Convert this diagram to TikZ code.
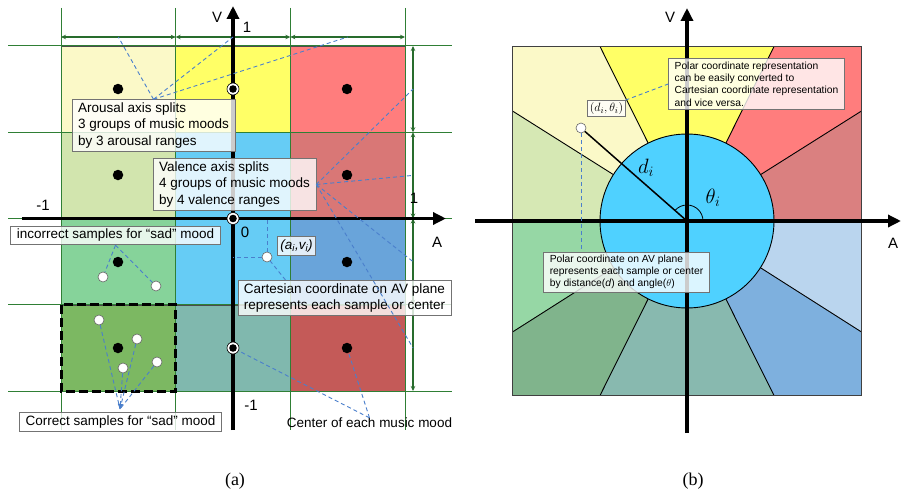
\documentclass[tikz,border=0pt]{standalone}
\usepackage{fontspec}
\setmainfont{Liberation Sans}
\newfontfamily\capfont{Liberation Serif}
\usetikzlibrary{arrows.meta,calc}

% cell colours (a)
\definecolor{lyellow}{HTML}{FBF9C8}
\definecolor{myellow}{HTML}{FFFF66}
\definecolor{mred}{HTML}{FF7D7D}
\definecolor{dred}{HTML}{D97776}
\definecolor{lgreen}{HTML}{D2E5AE}
\definecolor{mcyan}{HTML}{66CCF5}
\definecolor{mgreen}{HTML}{86D39A}
\definecolor{sblue}{HTML}{69A4DA}
\definecolor{ogreen}{HTML}{7CB862}
\definecolor{mteal}{HTML}{80B8AE}
\definecolor{crimson}{HTML}{C45A58}
% sector colours (b)
\definecolor{rdred}{HTML}{DA8080}
\definecolor{rlblue}{HTML}{BAD5EE}
\definecolor{rsblue}{HTML}{7EB0DE}
\definecolor{rteal}{HTML}{88B9AF}
\definecolor{rdgreen}{HTML}{80B48C}
\definecolor{rgreen}{HTML}{96D7A5}
\definecolor{rlgreen}{HTML}{D6E8B4}
\definecolor{rcyan}{HTML}{4FD1FF}
\definecolor{gridgreen}{HTML}{2F7F35}
\definecolor{calloutblue}{HTML}{4A7FCC}

\tikzset{
  cell/.style={draw=black!70, line width=0.5pt},
  gridline/.style={gridgreen, line width=1pt},
  dimarrow/.style={gridgreen!85!black, line width=1.2pt,
    {Stealth[length=5pt,width=4.5pt]}-{Stealth[length=5pt,width=4.5pt]}},
  avaxis/.style={line width=3.5pt, -{Triangle[length=13pt,width=12pt]}},
  callout/.style={calloutblue, line width=0.9pt, dash pattern=on 4pt off 3pt},
  notebox/.style={draw=black!55, fill=white, fill opacity=0.8, text opacity=1,
    line width=0.8pt, align=left, inner xsep=6pt, inner ysep=3pt,
    font=\fontsize{13.5}{16.5}\selectfont},
  smallbox/.style={notebox, inner xsep=6pt, font=\fontsize{10.3}{12.3}\selectfont},
  moodpt/.style={circle, fill=black, inner sep=0pt, minimum size=10.5pt},
  ringpt/.style={circle, fill=white, draw=black, line width=0.6pt, inner sep=0pt, minimum size=12pt},
  samplept/.style={circle, fill=white, draw=black!60, line width=0.6pt, inner sep=0pt, minimum size=10pt},
  lbl/.style={font=\fontsize{15}{17}\selectfont},
}

\begin{document}
\begin{tikzpicture}[x=1pt,y=-1pt]
  \fill[white] (0,0) rectangle (902,495);
  \useasboundingbox (0,0) rectangle (902,495);

  %% (a) cartesian plane
  \foreach \col/\row/\shade in {0/0/lyellow, 1/0/myellow, 2/0/mred,
                                0/1/lgreen, 1/1/mcyan, 2/1/dred,
                                0/2/mgreen, 1/2/mcyan, 2/2/sblue,
                                0/3/ogreen, 1/3/mteal, 2/3/crimson}
    \filldraw[cell, fill=\shade] ({61+114.67*\col},{46+86.25*\row}) rectangle +(114.67,86.25);

  \foreach \gx in {61,175.67,290.33,405}
    \draw[gridline] (\gx,8) -- (\gx,430);
  \foreach \gy in {46,132.25,218.5,304.75,391}
    \draw[gridline] (8,\gy) -- (452,\gy);

  % range arrows
  \foreach \i in {0,1,2}
    \draw[dimarrow] ({61+114.67*\i},37) -- ({61+114.67*(\i+1)},37) coordinate[midway] (h\i);
  \foreach \i in {0,1,2,3}
    \draw[dimarrow] (413,{46+86.25*\i}) -- (413,{46+86.25*(\i+1)}) coordinate[midway] (v\i);

  \draw[line width=3pt, dash pattern=on 9pt off 4pt] (61,304.75) rectangle (175.67,391);

  \coordinate (O) at (233,218.5);
  \draw[avaxis] (22,218.5) -- (446,218.5);
  \draw[avaxis] (233,430) -- (233,6);
  \node[lbl] at (217,17) {V};
  \node[lbl] at (247,27) {1};
  \node[lbl] at (43,205) {-1};
  \node[lbl] at (414,198) {1};
  \node[lbl] at (437,242) {A};
  \node[lbl] at (245,232) {0};
  \node[lbl] at (251,405) {-1};

  % mood centers
  \foreach \name/\px/\py in {l0/118/89, l1/118/175, l2/118/262, l3/118/348,
                             r0/347/89, r1/347/175, r2/347/262, r3/347/348}
    \node[moodpt] (\name) at (\px,\py) {};
  \foreach \name/\py in {m0/89, m1/218.5, m2/348} {
    \node[ringpt] (\name) at (233,\py) {};
    \fill (\name) circle (3.8);
  }

  % samples
  \node[samplept] (w1) at (103,277) {};
  \node[samplept] (w2) at (156,286) {};
  \node[samplept] (c1) at (99,320) {};
  \node[samplept] (c2) at (137,339) {};
  \node[samplept] (c3) at (123,368) {};
  \node[samplept] (c4) at (157,362) {};
  \node[samplept] (ai) at (267,257) {};

  % notes
  \node[notebox] (arousal) at (153.5,125.5) {Arousal axis splits\\3 groups of music moods\\by 3 arousal ranges};
  \node[notebox] (valence) at (234.5,184.5) {Valence axis splits\\4 groups of music moods\\by 4 valence ranges};
  \node[notebox] (incorrect) at (115.5,235.5) {incorrect samples for “sad” mood};
  \node[notebox, inner xsep=3pt] (ailbl) at (296.5,246) {\itshape(a\textsubscript{i},v\textsubscript{i})};
  \node[notebox] (cartesian) at (344.5,298) {Cartesian coordinate on AV plane\\represents each sample or center};
  \node[notebox] (correct) at (120.5,422) {Correct samples for “sad” mood};
  \node[font=\fontsize{13.5}{16.5}\selectfont, inner sep=0pt] (centerlbl) at (369.5,423) {Center of each music mood};
  \coordinate (sadtip) at (120,409);

  \foreach \t in {h0,h1,h2}
    \draw[callout] (arousal.north) -- (\t);
  \foreach \t in {v0,v1,v2,v3}
    \draw[callout] (valence.east) -- (\t);
  \draw[callout] (incorrect.south) -- (w1);
  \draw[callout] (incorrect.south) -- (w2);
  \foreach \t in {c1,c2,c4}
    \draw[callout] (\t) -- (sadtip);
  \draw[callout, -{Triangle[length=5pt,width=5pt]}] (c3) -- (sadtip);
  \draw[callout] (centerlbl.north) -- (m2);
  \draw[callout] (centerlbl.north) -- (r3);
  \draw[callout] (ai) -- (ai -| O);
  \draw[callout] (ai) -- (ai |- O);
  \draw[callout] ($(cartesian.north west)+(48,0)$) -- (ai);

  %% (b) polar plane
  \begin{scope}[shift={(687,221)}]
    \coordinate (P) at (0,0);
    \fill[myellow] (0,0) -- (-87,-174.5) -- (87,-174.5) -- cycle;
    \fill[lyellow] (0,0) -- (-174.5,-110) -- (-174.5,-174.5) -- (-87,-174.5) -- cycle;
    \fill[rlgreen] (0,0) -- (-174.5,0) -- (-174.5,-110) -- cycle;
    \fill[rgreen] (0,0) -- (-174.5,0) -- (-174.5,111) -- cycle;
    \fill[rdgreen] (0,0) -- (-174.5,111) -- (-174.5,174.5) -- (-87,174.5) -- cycle;
    \fill[rteal] (0,0) -- (-87,174.5) -- (87,174.5) -- cycle;
    \fill[rsblue] (0,0) -- (87,174.5) -- (174.5,174.5) -- (174.5,111) -- cycle;
    \fill[rlblue] (0,0) -- (174.5,111) -- (174.5,0) -- cycle;
    \fill[rdred] (0,0) -- (174.5,0) -- (174.5,-110) -- cycle;
    \fill[mred] (0,0) -- (174.5,-110) -- (174.5,-174.5) -- (87,-174.5) -- cycle;
    \foreach \ex/\ey in {-87/-174.5, 87/-174.5, -174.5/-110, 174.5/-110,
                         -174.5/111, 174.5/111, -87/174.5, 87/174.5}
      \draw[line width=0.9pt] (0,0) -- (\ex,\ey);
    \draw[black!75, line width=1pt] (-174.5,-174.5) rectangle (174.5,174.5);
    \filldraw[fill=rcyan, draw=black, line width=0.9pt] (0,0) circle[radius=87];
  \end{scope}

  \draw[avaxis] (475,221) -- (901,221);
  \draw[avaxis] (687,433) -- (687,8);
  \node[lbl] at (670,17) {V};
  \node[lbl] at (893,243) {A};

  \node[samplept] (p) at (581,128) {};
  \draw[line width=1.5pt] (p) -- (P);
  \draw[line width=0.8pt] (P) ++(16,0) arc[start angle=0, end angle=-138.7, radius=16];
  \node[font=\fontsize{21}{24}\selectfont] at (646,168) {$d_i$};
  \node[font=\fontsize{21}{24}\selectfont] at (713,198) {$\theta_i$};

  \node[notebox, inner xsep=2pt, inner ysep=2pt, font=\fontsize{13}{15}\selectfont] (dlbl) at (606.5,108.5) {$(d_i,\theta_i)$};
  \node[smallbox] (polarrep) at (756.5,84) {Polar coordinate representation\\can be easily converted to\\Cartesian coordinate representation\\and vice versa.};
  \node[smallbox] (polarav) at (626.5,272) {Polar coordinate on AV plane\\represents each sample or center\\by distance(\textit{d}) and angle($\theta$)};
  \draw[callout] (p) -- (p |- polarav.north);
  \draw[callout] (dlbl.north east) -- (polarrep.west);

  % captions
  \node[font=\capfont\fontsize{18}{20}\selectfont] at (235,481) {(a)};
  \node[font=\capfont\fontsize{18}{20}\selectfont] at (693,481) {(b)};
\end{tikzpicture}
\end{document}
